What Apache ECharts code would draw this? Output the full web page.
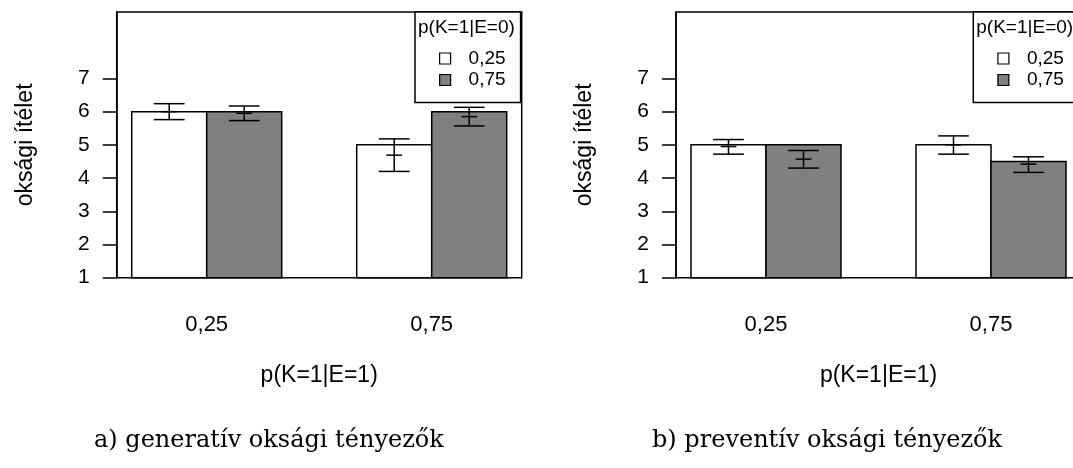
<!DOCTYPE html>
<html>
<head>
<meta charset="utf-8">
<script src="https://cdn.jsdelivr.net/npm/echarts@6/dist/echarts.min.js"></script>
<style>
html,body{margin:0;padding:0;background:#fff;}
#c{width:1073px;height:468px;}
</style>
</head>
<body>
<div id="c"></div>
<script>
// ---- data ----
const categories = ['0,25', '0,75'];           // p(K=1|E=1)
const levels = ['0,25', '0,75'];               // p(K=1|E=0)
const yTicks = [1, 2, 3, 4, 5, 6, 7];
// a) generatív
const genWhite = [6, 5];
const genWhiteLo = [5.76, 4.20];
const genWhiteMid = [6.00, 4.69];
const genWhiteHi = [6.24, 5.18];
const genGray = [6, 6];
const genGrayLo = [5.73, 5.57];
const genGrayMid = [5.95, 5.85];
const genGrayHi = [6.17, 6.13];
// b) preventív
const prevWhite = [5, 5];
const prevWhiteLo = [4.72, 4.72];
const prevWhiteMid = [4.95, 5.00];
const prevWhiteHi = [5.16, 5.27];
const prevGray = [5, 4.5];
const prevGrayLo = [4.30, 4.17];
const prevGrayMid = [4.57, 4.42];
const prevGrayHi = [4.83, 4.64];

// ---- layout helpers (R barplot: bar width 1, space c(0,1)) ----
const Y_MIN = 1, Y_MAX = 9;
const groupPos = categories.map((c, i) => 2 + 3 * i);
const SANS = 'Liberation Sans';
const SERIF = 'DejaVu Serif';
const WHITE = '#ffffff', GRAY = '#808080';

function build(vals, lo, mid, hi) {
  return vals.map((v, i) => [i, v, lo[i], mid[i], hi[i]]);
}

function renderer(offset, fill) {
  return function (params, api) {
    const g = api.value(0), v = api.value(1), lo = api.value(2), md = api.value(3), hi = api.value(4);
    const xc = groupPos[g] + offset;
    const a = api.coord([xc - 0.5, v]);
    const b = api.coord([xc + 0.5, Y_MIN]);
    const capW = api.size([0.41, 0])[0];
    const midW = api.size([0.21, 0])[0];
    const t = api.coord([xc, hi]), bt = api.coord([xc, lo]), m = api.coord([xc, md]);
    const ls = { stroke: '#000', lineWidth: 1.5 };
    return {
      type: 'group',
      children: [
        { type: 'rect', shape: { x: a[0], y: a[1], width: b[0] - a[0], height: b[1] - a[1] },
          style: { fill: fill, stroke: '#000', lineWidth: 1.5 } },
        { type: 'line', shape: { x1: t[0], y1: t[1], x2: bt[0], y2: bt[1] }, style: ls },
        { type: 'line', shape: { x1: t[0] - capW / 2, y1: t[1], x2: t[0] + capW / 2, y2: t[1] }, style: ls },
        { type: 'line', shape: { x1: bt[0] - capW / 2, y1: bt[1], x2: bt[0] + capW / 2, y2: bt[1] }, style: ls },
        { type: 'line', shape: { x1: m[0] - midW / 2, y1: m[1], x2: m[0] + midW / 2, y2: m[1] }, style: ls }
      ]
    };
  };
}

function xAxis(gi) {
  return {
    gridIndex: gi, type: 'value', min: 0.8, max: 6.2,
    axisLine: { show: false }, axisTick: { show: false }, splitLine: { show: false },
    axisLabel: {
      customValues: groupPos, margin: 36, fontSize: 22, fontFamily: SANS, color: '#000',
      formatter: v => categories[groupPos.indexOf(v)] || ''
    },
    name: 'p(K=1|E=1)', nameLocation: 'middle', nameGap: 86,
    nameTextStyle: { fontSize: 23, fontFamily: SANS, color: '#000' }
  };
}
function yAxis(gi) {
  return {
    gridIndex: gi, type: 'value', min: Y_MIN, max: Y_MAX, interval: 1,
    axisLine: { show: true, lineStyle: { color: '#000', width: 1.5 } },
    axisTick: { show: true, length: 14, customValues: yTicks, lineStyle: { color: '#000', width: 1.5 } },
    splitLine: { show: false },
    axisLabel: { customValues: yTicks, margin: 27, fontSize: 21, fontFamily: SANS, color: '#000' },
    name: 'oksági ítélet', nameLocation: 'middle', nameGap: 80,
    nameTextStyle: { fontSize: 23, fontFamily: SANS, color: '#000' }
  };
}
function legend(left) {
  return {
    left: left, top: 12, orient: 'vertical', selectedMode: false,
    padding: [37, 15, 13, 24], itemWidth: 11, itemHeight: 11, itemGap: 2.5, icon: 'rect',
    borderColor: '#000', borderWidth: 1.5, backgroundColor: '#fff',
    textStyle: { fontSize: 19, fontFamily: SANS, color: '#000', padding: [0, 0, 0, 13] },
    data: [
      { name: levels[0], itemStyle: { color: WHITE, borderColor: '#000', borderWidth: 1.2 } },
      { name: levels[1], itemStyle: { color: GRAY, borderColor: '#000', borderWidth: 1.2 } }
    ]
  };
}

const gridBase = { top: 12, width: 405, height: 265.7, show: true, borderColor: '#000', borderWidth: 1.5,
  backgroundColor: 'transparent', containLabel: false, outerBoundsMode: 'none' };

const chart = echarts.init(document.getElementById('c'), null, { renderer: 'canvas' });
chart.setOption({
  animation: false,
  backgroundColor: '#fff',
  grid: [
    Object.assign({ left: 116.7 }, gridBase),
    Object.assign({ left: 676 }, gridBase)
  ],
  xAxis: [xAxis(0), xAxis(1)],
  yAxis: [yAxis(0), yAxis(1)],
  legend: [legend(415), legend(973.3)],
  title: [
    { text: 'p(K=1|E=0)', left: 418, top: 18.5, padding: 0, textStyle: { fontSize: 19, fontWeight: 'normal', fontFamily: SANS, color: '#000' } },
    { text: 'p(K=1|E=0)', left: 976.3, top: 18.5, padding: 0, textStyle: { fontSize: 19, fontWeight: 'normal', fontFamily: SANS, color: '#000' } },
    { text: 'a) generatív oksági tényezők', left: 94, top: 429, padding: 0, textStyle: { fontSize: 24, fontWeight: 'normal', fontFamily: SERIF, color: '#000' } },
    { text: 'b) preventív oksági tényezők', left: 652, top: 429, padding: 0, textStyle: { fontSize: 24, fontWeight: 'normal', fontFamily: SERIF, color: '#000' } }
  ],
  series: [
    { name: levels[0], type: 'custom', xAxisIndex: 0, yAxisIndex: 0, itemStyle: { color: WHITE, borderColor: '#000' },
      renderItem: renderer(-0.5, WHITE), data: build(genWhite, genWhiteLo, genWhiteMid, genWhiteHi) },
    { name: levels[1], type: 'custom', xAxisIndex: 0, yAxisIndex: 0, itemStyle: { color: GRAY, borderColor: '#000' },
      renderItem: renderer(0.5, GRAY), data: build(genGray, genGrayLo, genGrayMid, genGrayHi) },
    { name: levels[0], type: 'custom', xAxisIndex: 1, yAxisIndex: 1, itemStyle: { color: WHITE, borderColor: '#000' },
      renderItem: renderer(-0.5, WHITE), data: build(prevWhite, prevWhiteLo, prevWhiteMid, prevWhiteHi) },
    { name: levels[1], type: 'custom', xAxisIndex: 1, yAxisIndex: 1, itemStyle: { color: GRAY, borderColor: '#000' },
      renderItem: renderer(0.5, GRAY), data: build(prevGray, prevGrayLo, prevGrayMid, prevGrayHi) }
  ]
});
</script>
</body>
</html>
